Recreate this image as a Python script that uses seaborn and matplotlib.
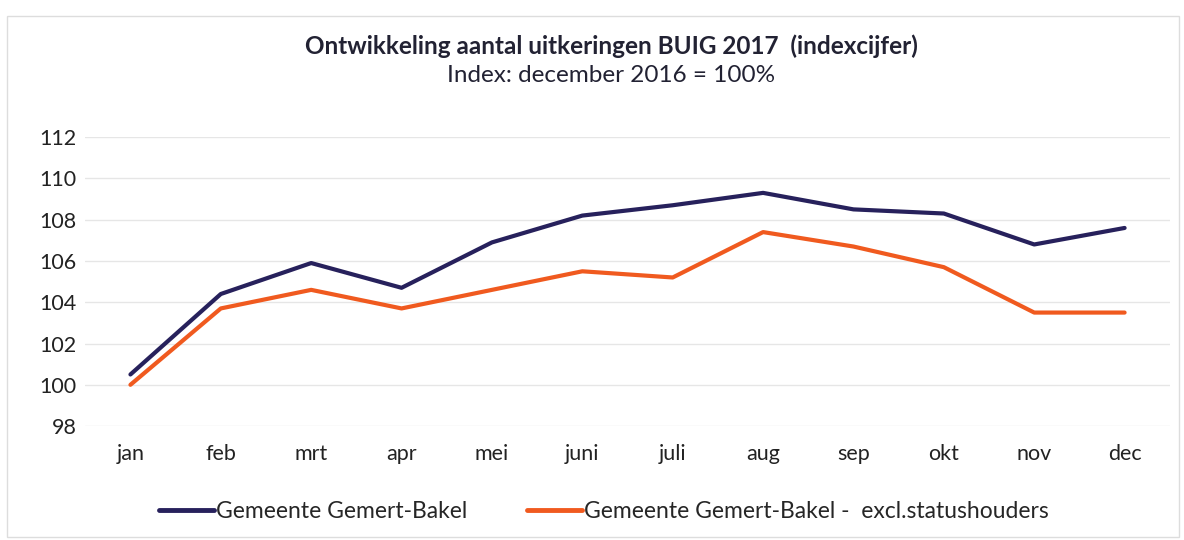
import pandas as pd
import seaborn as sns
import matplotlib.pyplot as plt

months = ["jan", "feb", "mrt", "apr", "mei", "juni", "juli", "aug", "sep", "okt", "nov", "dec"]
totaal = [100.5, 104.4, 105.9, 104.7, 106.9, 108.2, 108.7, 109.3, 108.5, 108.3, 106.8, 107.6]
excl_status = [100.0, 103.7, 104.6, 103.7, 104.6, 105.5, 105.2, 107.4, 106.7, 105.7, 103.5, 103.5]
series_names = ["Gemeente Gemert-Bakel", "Gemeente Gemert-Bakel -  excl.statushouders"]
yticks = [98, 100, 102, 104, 106, 108, 110, 112]

df = pd.DataFrame({
    "maand": months * 2,
    "index": totaal + excl_status,
    "reeks": [series_names[0]] * len(months) + [series_names[1]] * len(months),
})

sns.set_style("white")
plt.rcParams['font.family'] = ['Lato', 'DejaVu Sans']

fig = plt.figure(figsize=(11.84, 5.4), dpi=100)
ax = fig.add_axes([0.072, 0.211, 0.916, 0.535])

sns.lineplot(data=df, x="maand", y="index", hue="reeks", sort=False,
             palette=["#27215c", "#f05a1f"], linewidth=3, ax=ax, legend=False)

ax.set_xlim(-0.5, len(months) - 0.5)
ax.set_ylim(98, 112)
ax.set_yticks(yticks)
ax.grid(axis="y", color="#e6e6e6", linewidth=1)
ax.set_axisbelow(True)
for s in ax.spines.values():
    s.set_visible(False)
ax.tick_params(axis="both", length=0, labelsize=15.5, colors="#222222", pad=6)
ax.tick_params(axis="x", pad=13)
ax.set_xlabel("")
ax.set_ylabel("")

fig.text(0.516, 0.915, "Ontwikkeling aantal uitkeringen BUIG 2017  (indexcijfer)",
         ha="center", va="center", fontsize=17.5, fontweight="bold", color="#222233")
fig.text(0.516, 0.86, "Index: december 2016 = 100%",
         ha="center", va="center", fontsize=17.5, color="#222233")

handles = [plt.Line2D([], [], color=c, linewidth=3.5) for c in ["#27215c", "#f05a1f"]]
fig.legend(handles, series_names, loc="center", bbox_to_anchor=(0.51, 0.052), ncol=2,
           frameon=False, fontsize=16.5, handlelength=2.4, handletextpad=0.1,
           columnspacing=2.6)

# light frame around the chart
fig.patches.append(plt.Rectangle((0.006, 0.005), 0.99, 0.965, transform=fig.transFigure,
                                 fill=False, edgecolor="#dddddd", linewidth=1))

fig.savefig("out.png", dpi=100)
